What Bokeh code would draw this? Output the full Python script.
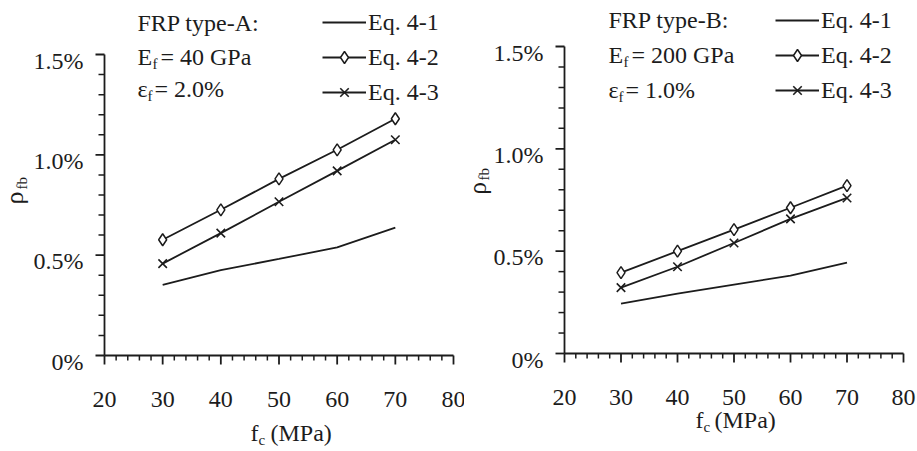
import math
import numpy as np
from bokeh.plotting import figure
from bokeh.layouts import row
from bokeh.models import Range1d, Label, Legend, LegendItem
from bokeh.core.properties import value
from bokeh.embed import file_html
from bokeh.resources import INLINE

# ---------------- data (values in %) ----------------
fc = [30, 40, 50, 60, 70]

a_eq41 = [0.352, 0.426, 0.481, 0.539, 0.637]
a_eq42 = [0.577, 0.726, 0.880, 1.025, 1.180]
a_eq43 = [0.458, 0.610, 0.766, 0.920, 1.075]

b_eq41 = [0.244, 0.293, 0.337, 0.380, 0.444]
b_eq42 = [0.395, 0.500, 0.605, 0.712, 0.820]
b_eq43 = [0.322, 0.424, 0.540, 0.658, 0.760]

series_labels = ["Eq. 4-1", "Eq. 4-2", "Eq. 4-3"]
x_ticks = [20, 30, 40, 50, 60, 70, 80]
x_tick_labels = ["20", "30", "40", "50", "60", "70", "80"]
y_ticks = [0.0, 0.5, 1.0, 1.5]
y_tick_labels = ["0%", "0.5%", "1.0%", "1.5%"]
x_minor_step = 2
y_minor_step = 0.1
x_lim = (20, 80)
y_lim = (0.0, 1.5)

FONT = "Liberation Serif"
INK = "#1c1c1c"
H = 451


def make_panel(W, L, R, T, B, eq41, eq42, eq43, leg_x, leg_bottom):
    sx = (R - L) / (x_lim[1] - x_lim[0])
    sy = (B - T) / (y_lim[1] - y_lim[0])
    xr = Range1d(x_lim[0] - L / sx, x_lim[0] + (W - L) / sx)
    yr = Range1d(y_lim[0] - (H - B) / sy, y_lim[1] + T / sy)
    p = figure(width=W, height=H, x_range=xr, y_range=yr,
               x_axis_location=None, y_axis_location=None, min_border=0,
               output_backend="svg", toolbar_location=None)
    p.outline_line_color = None
    for g in p.grid:
        g.visible = False
    p.background_fill_color = "white"
    p.border_fill_color = "white"

    x0, x1 = x_lim
    y0, y1 = y_lim
    # axis lines
    p.segment(x0=[x0, x0], y0=[y0, y0], x1=[x1, x0], y1=[y0, y1],
              line_color=INK, line_width=1.8)
    # x ticks
    xmin = [v for v in np.arange(x0, x1 + 1e-9, x_minor_step) if v not in x_ticks]
    p.segment(x0=x_ticks, y0=[y0] * len(x_ticks), x1=x_ticks,
              y1=[y0 - 9 / sy] * len(x_ticks), line_color=INK, line_width=1.8)
    p.segment(x0=xmin, y0=[y0] * len(xmin), x1=xmin,
              y1=[y0 - 5 / sy] * len(xmin), line_color=INK, line_width=1.5)
    # y ticks
    ymin = [v for v in np.round(np.arange(y0, y1 + 1e-9, y_minor_step), 3)
            if not any(abs(v - t) < 1e-6 for t in y_ticks)]
    p.segment(x0=[x0] * len(y_ticks), y0=y_ticks, x1=[x0 - 9 / sx] * len(y_ticks),
              y1=y_ticks, line_color=INK, line_width=1.8)
    p.segment(x0=[x0] * len(ymin), y0=ymin, x1=[x0 - 6 / sx] * len(ymin),
              y1=ymin, line_color=INK, line_width=1.5)
    # tick labels
    p.text(x=x_ticks, y=[y0 - 36 / sy] * len(x_ticks), text=x_tick_labels,
           text_font=value(FONT), text_font_size=value("24px"), text_color=INK,
           text_align="center", text_baseline="top")
    p.text(x=[x0 - 21 / sx] * len(y_ticks), y=y_ticks, text=y_tick_labels,
           text_font=value(FONT), text_font_size=value("24px"), text_color=INK,
           text_align="right", text_baseline="middle", y_offset=6)

    # data
    r1 = p.line(fc, eq41, line_width=1.8, line_color=INK)
    r2l = p.line(fc, eq42, line_width=1.8, line_color=INK)
    r2m = p.scatter(fc, eq42, marker="diamond", size=12,
                    fill_color="white", line_color=INK, line_width=1.5)
    r3l = p.line(fc, eq43, line_width=1.8, line_color=INK)
    r3m = p.scatter(fc, eq43, marker="x", size=12, line_color=INK, line_width=1.6)

    legend = Legend(items=[LegendItem(label=series_labels[0], renderers=[r1]),
                           LegendItem(label=series_labels[1], renderers=[r2l, r2m]),
                           LegendItem(label=series_labels[2], renderers=[r3l, r3m])],
                    location=(leg_x, H - leg_bottom), glyph_width=44, glyph_height=30,
                    label_height=30, label_standoff=2, spacing=5, padding=0, margin=0,
                    border_line_color=None, background_fill_alpha=0,
                    label_text_font=FONT, label_text_font_size="24px",
                    label_text_color=INK)
    p.add_layout(legend)
    return p


def add_text(p, X, Y, text, size, angle=0.0):
    # small empirical correction so that the glyph baseline lands at (X, Y)
    d = 0.375 * size
    if angle:
        X -= d
    else:
        Y -= d
    p.add_layout(Label(x=X, y=H - Y, x_units="screen", y_units="screen",
                       text=text, text_font=FONT, text_font_size=f"{size}px",
                       text_color=INK, text_align="left", text_baseline="alphabetic",
                       angle=angle))


# ---------------- left panel ----------------
p1 = make_panel(464, 104, 453, 54, 355, a_eq41, a_eq42, a_eq43, 322, 107)
add_text(p1, 137, 31, "FRP type-A:", 24)
add_text(p1, 137, 65, "E", 24)
add_text(p1, 152, 69, "f", 15)
add_text(p1, 160, 65, "= 40 GPa", 24)
add_text(p1, 137, 97, "ε", 24)
add_text(p1, 147, 101, "f", 15)
add_text(p1, 154, 97, "= 2.0%", 24)
add_text(p1, 250, 441, "f", 24)
add_text(p1, 258, 445, "c", 15)
add_text(p1, 270, 441, "(MPa)", 24)
add_text(p1, 24, 204, "ρ", 26, math.pi / 2)
add_text(p1, 27, 189, "fb", 15, math.pi / 2)

# ---------------- right panel ----------------
OX = 464
p2 = make_panel(453, 564 - OX, 903 - OX, 46, 353, b_eq41, b_eq42, b_eq43, 775 - OX, 105)
add_text(p2, 608 - OX, 28, "FRP type-B:", 24)
add_text(p2, 608 - OX, 63, "E", 24)
add_text(p2, 623 - OX, 67, "f", 15)
add_text(p2, 631 - OX, 63, "= 200 GPa", 24)
add_text(p2, 608 - OX, 98, "ε", 24)
add_text(p2, 618 - OX, 102, "f", 15)
add_text(p2, 625 - OX, 98, "= 1.0%", 24)
add_text(p2, 695 - OX, 428, "f", 24)
add_text(p2, 703 - OX, 432, "c", 15)
add_text(p2, 714 - OX, 428, "(MPa)", 24)
add_text(p2, 486 - OX, 194, "ρ", 25, math.pi / 2)
add_text(p2, 489 - OX, 180, "fb", 15, math.pi / 2)

layout = row(p1, p2)
open("out.html", "w").write(file_html(layout, INLINE))
